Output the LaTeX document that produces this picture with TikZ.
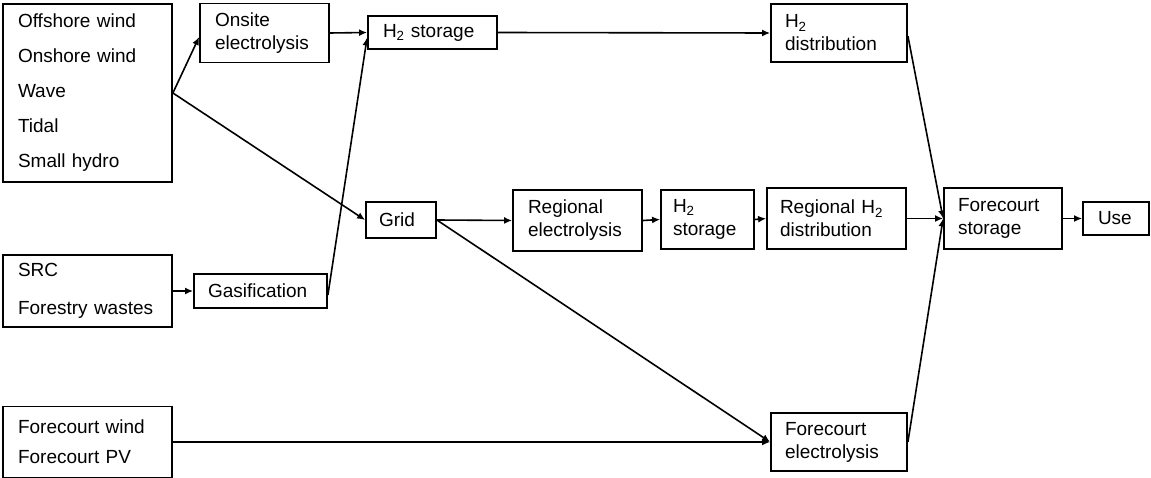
\documentclass[tikz,border=0pt]{standalone}
\usepackage{fontspec}
\setmainfont{Liberation Sans}
\usetikzlibrary{arrows.meta}
\tikzset{
  blk/.style={draw, line width=1.8pt, align=left, inner ysep=0pt, font=\fontsize{19}{23}\selectfont},
  flow/.style={line width=1.6pt, -{Latex[length=8pt,width=7pt]}}
}
\begin{document}
\begin{tikzpicture}[x=1pt,y=-1pt]
  \useasboundingbox (0,0) rectangle (1151,478);
  % sources
  \node[blk, inner xsep=15pt, text width=139pt, minimum height=178pt] (src1) at (87.5,93)
    {Offshore wind\\[12pt] Onshore wind\\[12pt] Wave\\[12pt] Tidal\\[12pt] Small hydro};
  \node[blk, inner xsep=15pt, text width=139pt, minimum height=72pt] (src2) at (87.5,291)
    {SRC\\[15pt] Forestry wastes};
  \node[blk, inner xsep=15pt, text width=139pt, minimum height=71pt] (src3) at (87.5,442)
    {Forecourt wind\\[7pt] Forecourt PV};
  % conversion and storage
  \node[blk, inner xsep=15pt, text width=99pt,  minimum height=59pt] (onsite)  at (264.5,33)   {Onsite\\electrolysis};
  \node[blk, inner xsep=15pt, text width=99pt,  minimum height=33pt] (h2sa)    at (432.5,32.5) {H\textsubscript{2} storage};
  \node[blk, inner xsep=14pt, text width=108pt, minimum height=58pt] (h2dist)  at (839,33)     {H\textsubscript{2}\\distribution};
  \node[blk, inner xsep=14pt, text width=105pt, minimum height=34pt] (gasif)   at (260.5,291)  {Gasification};
  \node[blk, inner xsep=13pt, text width=44pt,  minimum height=36pt] (grid)    at (401,220)    {Grid};
  \node[blk, inner xsep=15pt, text width=99pt,  minimum height=61pt] (regel)   at (577.5,220.5){Regional\\electrolysis};
  \node[blk, inner xsep=12pt, text width=69pt,  minimum height=59pt] (h2sb)    at (707.5,219.5){H\textsubscript{2}\\storage};
  \node[blk, inner xsep=13pt, text width=113pt, minimum height=61pt] (regdist) at (836.5,218.5){Regional H\textsubscript{2}\\distribution};
  \node[blk, inner xsep=14pt, text width=90pt,  minimum height=61pt] (fcstore) at (1003,218.5) {Forecourt\\storage};
  \node[blk, inner xsep=15pt, text width=36pt,  minimum height=33pt] (use)     at (1116,218.5) {Use};
  \node[blk, inner xsep=14pt, text width=108pt, minimum height=58pt] (fcel)    at (839,442)    {Forecourt\\electrolysis};
  % connectors
  \draw[flow] (src1.east) -- ([yshift=-4pt]onsite.west);
  \draw[flow] (src1.east) -- (grid.west);
  \draw[flow] (onsite.east) -- (h2sa.west);
  \draw[flow] (src2.east) -- (gasif.west);
  \draw[flow] ([yshift=-4pt]gasif.east) -- ([yshift=-5pt]h2sa.west);
  \draw[flow] (h2sa.east) -- (h2dist.west);
  \draw[flow] (grid.east) -- (regel.west);
  \draw[flow] (grid.east) -- (fcel.west);
  \draw[flow] (regel.east) -- (h2sb.west);
  \draw[flow] (h2sb.east) -- (regdist.west);
  \draw[flow] (regdist.east) -- (fcstore.west);
  \draw[flow] (fcstore.east) -- (use.west);
  \draw[flow] ([yshift=-3pt]h2dist.east) -- (fcstore.west);
  \draw[flow] (fcel.east) -- (fcstore.west);
  \draw[flow] (src3.east) -- (fcel.west);
\end{tikzpicture}
\end{document}
